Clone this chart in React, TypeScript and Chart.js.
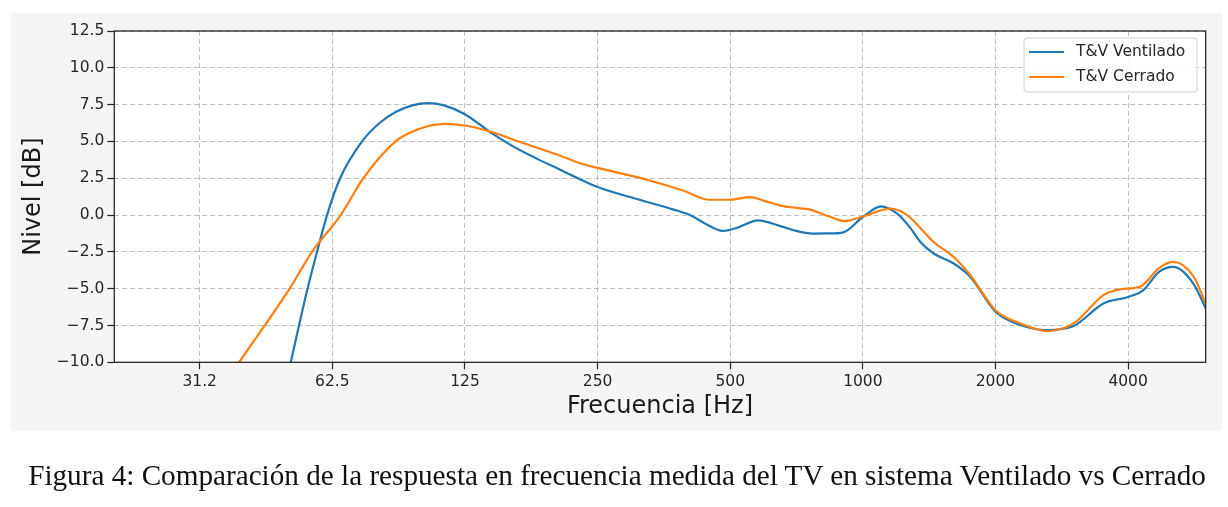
import React, { useEffect, useRef } from 'react';
import { Chart, registerables } from 'chart.js';

Chart.register(...registerables);

// T&V Ventilado (blue)
const freqVent = [
  46, 50.3, 52.5, 54.9, 57.7, 60.8, 65.1, 73, 80, 87, 95, 103, 112, 125, 142, 160, 180, 205, 250,
  311, 372, 405, 440, 481, 520, 578, 650, 700, 770, 840, 900, 1000, 1100, 1196, 1280, 1351, 1448, 1608,
  1754, 2000, 2277, 2617, 3007, 3516, 4000, 4333, 4700, 5067, 5625, 6000,
];
const levelVent = [
  -15.5, -10, -7.5, -5, -2.5, 0, 2.5, 5, 6.25, 7.0, 7.45, 7.6, 7.45, 6.85, 5.67, 4.7, 3.9, 3.1,
  1.9, 1.04, 0.37, 0.0, -0.6, -1.08, -0.85, -0.36, -0.75, -1.05, -1.26, -1.25, -1.19, -0.13, 0.59, 0.09,
  -0.85, -1.83, -2.61, -3.29, -4.2, -6.57, -7.47, -7.81, -7.54, -6.0, -5.56, -5.1, -3.86, -3.52, -4.65,
  -6.34,
];

// T&V Cerrado (orange)
const freqCerr = [
  30, 38.4, 50, 56.2, 65.3, 73.5, 86.9, 94, 102, 112.7, 125, 142.5, 160, 185, 205, 228, 250, 290, 328, 391,
  449, 500, 554, 600, 648, 700, 758, 840, 908, 1000, 1155, 1260, 1448, 1608, 1754, 2000, 2277, 2617, 3007,
  3516, 3833, 4280, 4700, 5067, 5625, 6000,
];
const levelCerr = [
  -14.7, -10, -5, -2.5, 0, 2.5, 5, 5.6, 6.0, 6.19, 6.08, 5.67, 5.15, 4.5, 4.05, 3.52, 3.2, 2.75, 2.35, 1.67,
  1.04, 1.04, 1.22, 0.95, 0.66, 0.5, 0.37, -0.1, -0.41, -0.1, 0.43, 0.0, -1.83, -2.85, -4.09, -6.46, -7.36,
  -7.88, -7.36, -5.44, -5.05, -4.83, -3.6, -3.18, -4.15, -6.0,
];

const xTicks = [31.25, 62.5, 125, 250, 500, 1000, 2000, 4000];
const xTickLabels = ['31.2', '62.5', '125', '250', '500', '1000', '2000', '4000'];
const seriesLabels = ['T&V Ventilado', 'T&V Cerrado'];
const seriesColors = ['#1f77b4', '#ff7f0e'];

const FONT = "'DejaVu Sans', sans-serif";
const INK = '#262626';

// white plot area + black frame on all four sides
const framePlugin = {
  id: 'frame',
  beforeDraw(chart) {
    const { ctx, chartArea: a } = chart;
    ctx.save();
    ctx.fillStyle = '#ffffff';
    ctx.fillRect(a.left, a.top, a.right - a.left, a.bottom - a.top);
    ctx.restore();
  },
  afterDatasetsDraw(chart) {
    const { ctx, chartArea: a } = chart;
    ctx.save();
    ctx.strokeStyle = INK;
    ctx.lineWidth = 1.3;
    ctx.strokeRect(a.left, a.top, a.right - a.left, a.bottom - a.top);
    ctx.restore();
  },
};

// matplotlib-like legend box in the upper right corner
const legendPlugin = {
  id: 'legendBox',
  afterDraw(chart) {
    const { ctx, chartArea: a } = chart;
    const w = 173;
    const h = 54;
    const x = a.right - 8.7 - w;
    const y = a.top + 7;
    ctx.save();
    ctx.beginPath();
    ctx.roundRect(x, y, w, h, 3);
    ctx.fillStyle = 'rgba(255,255,255,0.85)';
    ctx.fill();
    ctx.strokeStyle = '#d0d0d0';
    ctx.lineWidth = 1;
    ctx.stroke();
    chart.data.datasets.forEach((ds, i) => {
      const cy = y + 14 + i * 25;
      ctx.beginPath();
      ctx.moveTo(x + 5, cy);
      ctx.lineTo(x + 40, cy);
      ctx.strokeStyle = ds.borderColor;
      ctx.lineWidth = 2.2;
      ctx.stroke();
      ctx.fillStyle = INK;
      ctx.font = `15.5px ${FONT}`;
      ctx.textBaseline = 'middle';
      ctx.textAlign = 'left';
      ctx.fillText(ds.label, x + 52, cy);
    });
    ctx.restore();
  },
};

const ResponseChart = () => {
  const chartRef = useRef<HTMLCanvasElement>(null);

  useEffect(() => {
    if (!chartRef.current) return;
    const chart = new Chart(chartRef.current, {
      type: 'line',
      data: {
        datasets: [
          {
            label: seriesLabels[0],
            data: freqVent.map((f, i) => ({ x: f, y: levelVent[i] })),
            borderColor: seriesColors[0],
            borderWidth: 2.2,
            pointRadius: 0,
            cubicInterpolationMode: 'monotone',
            fill: false,
            order: 1,
          },
          {
            label: seriesLabels[1],
            data: freqCerr.map((f, i) => ({ x: f, y: levelCerr[i] })),
            borderColor: seriesColors[1],
            borderWidth: 2.2,
            pointRadius: 0,
            cubicInterpolationMode: 'monotone',
            fill: false,
            order: 0,
          },
        ],
      },
      options: {
        responsive: false,
        animation: false,
        layout: { padding: { top: 18, right: 16.3, left: 0, bottom: 0 } },
        scales: {
          x: {
            type: 'logarithmic',
            min: 20,
            max: 6000,
            afterBuildTicks: (s) => {
              s.ticks = xTicks.map((v) => ({ value: v }));
            },
            afterFit: (s) => {
              s.height = 68.7;
            },
            ticks: {
              autoSkip: false,
              maxRotation: 0,
              padding: 3,
              color: INK,
              font: { family: FONT, size: 15.5 },
              callback: (v) => xTickLabels[xTicks.indexOf(Number(v))] ?? '',
            },
            grid: {
              color: 'rgba(176,176,176,0.8)',
              lineWidth: 1,
              tickLength: 7,
              tickColor: INK,
              tickWidth: 1.2,
              tickBorderDash: [],
            },
            border: { display: false, dash: [5, 3] },
            title: {
              display: true,
              text: 'Frecuencia [Hz]',
              color: '#1a1a1a',
              font: { family: FONT, size: 24 },
              padding: { top: 0, bottom: 9.9 },
            },
          },
          y: {
            type: 'linear',
            min: -10,
            max: 12.5,
            afterFit: (s) => {
              s.width = 103.3;
            },
            ticks: {
              stepSize: 2.5,
              padding: 3,
              color: INK,
              font: { family: FONT, size: 15.5 },
              callback: (v) => Number(v).toFixed(1).replace('-', '\u2212'),
            },
            grid: {
              color: 'rgba(176,176,176,0.8)',
              lineWidth: 1,
              tickLength: 7,
              tickColor: INK,
              tickWidth: 1.2,
              tickBorderDash: [],
            },
            border: { display: false, dash: [5, 3] },
            title: {
              display: true,
              text: 'Nivel [dB]',
              color: '#1a1a1a',
              font: { family: FONT, size: 24 },
              padding: { top: 8.6, bottom: 0 },
            },
          },
        },
        plugins: {
          legend: { display: false },
          tooltip: { enabled: false },
        },
      },
      plugins: [framePlugin, legendPlugin],
    });

    return () => {
      chart.destroy();
    };
  }, []);

  return <canvas ref={chartRef} width={1211} height={418} style={{ display: 'block', width: 1211, height: 418 }} />;
};

export default function App() {
  return (
    <div style={{ position: 'fixed', left: 0, top: 0, width: 1228, height: 507, background: '#ffffff' }}>
      <div style={{ position: 'absolute', left: 11, top: 13, width: 1211, height: 418, background: '#f5f5f5' }}>
        <ResponseChart />
      </div>
      <div
        style={{
          position: 'absolute',
          left: 3,
          top: 461,
          width: 1228,
          textAlign: 'center',
          fontFamily: "'Liberation Serif', serif",
          fontSize: 29.2,
          lineHeight: '29px',
          color: '#111111',
          whiteSpace: 'nowrap',
        }}
      >
        Figura 4: Comparación de la respuesta en frecuencia medida del TV en sistema Ventilado vs Cerrado
      </div>
    </div>
  );
}
